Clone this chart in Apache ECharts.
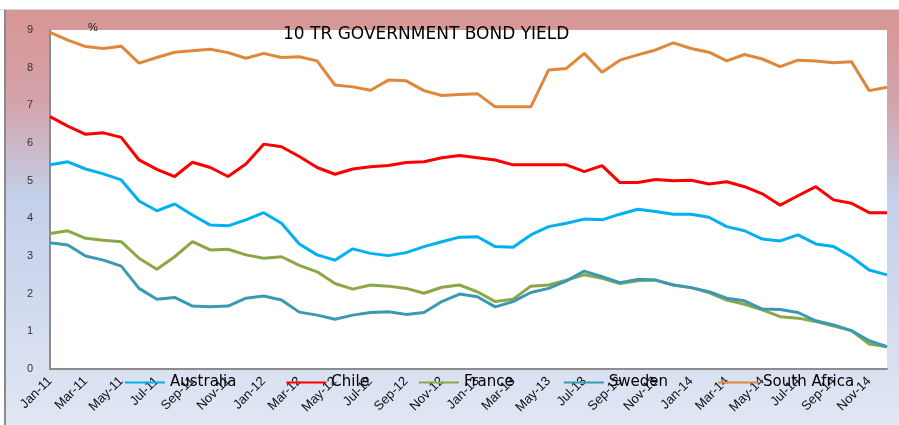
<!DOCTYPE html>
<html>
<head>
<meta charset="utf-8">
<script src="https://cdn.jsdelivr.net/npm/echarts@6/dist/echarts.min.js"></script>
<style>html,body{margin:0;padding:0;background:#fff;}#c{width:899px;height:425px;}</style>
</head>
<body>
<div id="c"></div>
<script>
const categories = ['Jan-11','Feb-11','Mar-11','Apr-11','May-11','Jun-11','Jul-11','Aug-11','Sep-11','Oct-11','Nov-11','Dec-11',
'Jan-12','Feb-12','Mar-12','Apr-12','May-12','Jun-12','Jul-12','Aug-12','Sep-12','Oct-12','Nov-12','Dec-12',
'Jan-13','Feb-13','Mar-13','Apr-13','May-13','Jun-13','Jul-13','Aug-13','Sep-13','Oct-13','Nov-13','Dec-13',
'Jan-14','Feb-14','Mar-14','Apr-14','May-14','Jun-14','Jul-14','Aug-14','Sep-14','Oct-14','Nov-14','Dec-14'];

const australia = [5.42,5.50,5.31,5.18,5.02,4.46,4.20,4.38,4.09,3.82,3.80,3.96,4.15,3.87,3.32,
3.03,2.89,3.19,3.07,3.01,3.09,3.25,3.38,3.50,3.51,3.25,3.23,3.56,3.78,3.87,3.98,3.96,
4.11,4.24,4.18,4.11,4.11,4.03,3.78,3.67,3.45,3.40,3.56,3.32,3.25,2.98,2.63,2.50];

const chile = [6.70,6.45,6.23,6.27,6.15,5.55,5.30,5.11,5.49,5.35,5.11,5.44,5.97,5.90,5.64,
5.35,5.17,5.31,5.37,5.40,5.48,5.50,5.61,5.67,5.61,5.55,5.42,5.42,5.42,5.42,5.24,5.40,
4.95,4.95,5.03,5.00,5.01,4.91,4.97,4.84,4.65,4.35,4.60,4.84,4.49,4.40,4.15,4.15];

const france = [3.60,3.67,3.47,3.42,3.38,2.94,2.65,2.98,3.38,3.16,3.18,3.03,2.94,2.98,2.75,
2.58,2.27,2.12,2.23,2.20,2.14,2.01,2.17,2.23,2.05,1.79,1.85,2.20,2.23,2.36,2.50,2.41,
2.27,2.34,2.36,2.23,2.16,2.03,1.83,1.72,1.57,1.39,1.35,1.26,1.14,1.02,0.66,0.59];

const sweden = [3.35,3.29,3.00,2.89,2.73,2.14,1.85,1.90,1.67,1.65,1.67,1.88,1.94,1.83,1.51,
1.43,1.32,1.43,1.50,1.52,1.45,1.50,1.79,1.99,1.92,1.65,1.79,2.03,2.14,2.34,2.60,2.45,
2.29,2.38,2.36,2.23,2.16,2.05,1.88,1.81,1.59,1.58,1.50,1.28,1.17,1.02,0.75,0.59];

const southAfrica = [8.94,8.73,8.56,8.51,8.57,8.12,8.27,8.41,8.45,8.49,8.40,8.25,8.38,8.27,8.29,
8.18,7.54,7.49,7.40,7.67,7.65,7.39,7.26,7.29,7.31,6.96,6.96,6.96,7.94,7.98,8.38,7.88,
8.20,8.34,8.47,8.66,8.51,8.41,8.18,8.35,8.23,8.03,8.20,8.18,8.13,8.16,7.39,7.48];

const seriesNames = ['Australia','Chile','France','Sweden','South Africa'];
const seriesData = [australia, chile, france, sweden, southAfrica];
const colors = ['#00b0f0','#ff0000','#8ca846','#3c99b4','#e0873b'];

const chart = echarts.init(document.getElementById('c'), null, {renderer:'canvas'});
const option = {
  animation: false,
  color: colors,
  title: {
    text: '10 TR GOVERNMENT BOND YIELD',
    left: 278,
    top: 21,
    textStyle: {fontFamily:'DejaVu Sans', fontSize:17, fontWeight:'normal', color:'#000'}
  },
  graphic: [
    {type:'rect', z:-100, silent:true, shape:{x:5,y:10,width:894,height:415},
     style:{fill:new echarts.graphic.LinearGradient(0,0,0,1,[
       {offset:0,color:'#d79797'},{offset:0.05,color:'#d79898'},{offset:0.22,color:'#d3a3aa'},
       {offset:0.45,color:'#c4cfea'},{offset:1,color:'#e0e6f3'}])}},
    {type:'line', z:-99, silent:true, shape:{x1:0,y1:9.5,x2:899,y2:9.5}, style:{stroke:'#d4d4d4',lineWidth:1}},
    {type:'line', z:-99, silent:true, shape:{x1:5,y1:10,x2:5,y2:425}, style:{stroke:'#8a8a8a',lineWidth:2}},
    {type:'text', z:100, left:88, top:22, style:{text:'%', fontFamily:'Liberation Sans', fontSize:11, fill:'#222'}}
  ],
  legend: {
    data: seriesNames,
    left: 120,
    top: 370,
    itemGap: 50,
    itemWidth: 40,
    itemHeight: 2,
    icon: 'rect',
    textStyle: {fontFamily:'DejaVu Sans', fontSize:15, color:'#000'}
  },
  grid: {left:50, top:30, right:12, bottom:56, show:true, backgroundColor:'#ffffff', borderWidth:0},
  xAxis: {
    type:'category', data:categories, boundaryGap:false,
    axisLine:{lineStyle:{color:'#8c8c8c', width:2}},
    axisTick:{show:false},
    axisLabel:{interval:1, rotate:45, fontFamily:'Liberation Sans', fontSize:13, color:'#111', margin:10},
    splitLine:{show:false}
  },
  yAxis: {
    type:'value', min:0, max:9, interval:1,
    axisLine:{show:true, lineStyle:{color:'#8c8c8c', width:2}},
    axisTick:{show:false},
    axisLabel:{fontFamily:'Liberation Sans', fontSize:11, color:'#333', margin:17},
    splitLine:{show:false}
  },
  series: seriesNames.map((n,i)=>({
    name:n, type:'line', data:seriesData[i], symbol:'none', smooth:false,
    lineStyle:{width:3, color:colors[i]}, itemStyle:{color:colors[i]}
  }))
};
chart.setOption(option);
</script>
</body>
</html>
